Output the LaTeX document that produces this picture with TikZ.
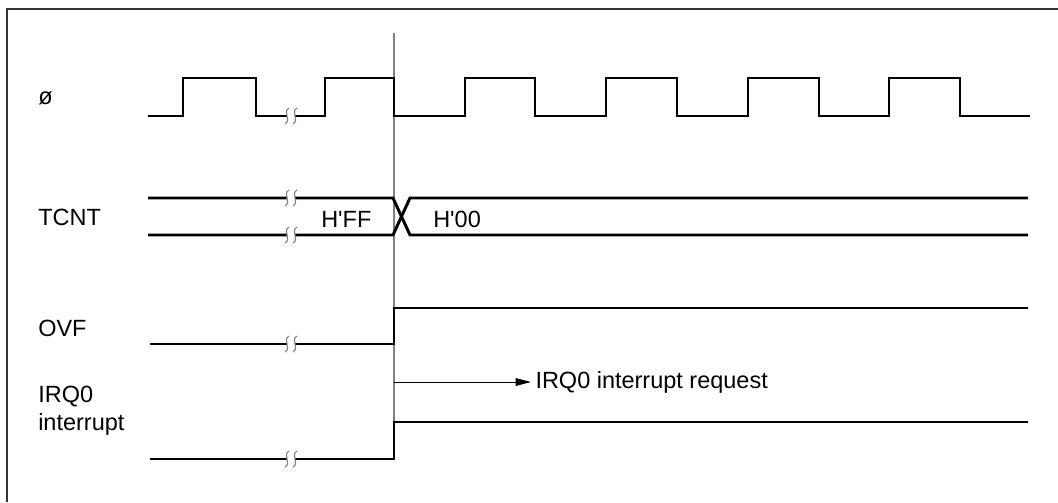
\documentclass[tikz,border=0pt]{standalone}
\usepackage{fontspec}
\setmainfont{Liberation Sans}
\usetikzlibrary{arrows.meta,positioning}
\definecolor{frameline}{HTML}{333333}
\definecolor{markline}{HTML}{808080}

\begin{document}
\begin{tikzpicture}[x=0.025cm,y=-0.025cm,>=Latex,
 font=\fontsize{16.7}{19.5}\selectfont,
 lbl/.style={inner sep=0pt,anchor=base west,align=left},
 sig/.style={line width=2.1pt,line join=miter},
 timeline/.style={markline,line width=1pt},
 arr/.style={-{Triangle[length=11pt,width=5.5pt]},line width=0.7pt},
 brkmark/.pic={\draw[markline,line width=0.8pt] (2,-8) .. controls (-5,-4) and (5,4) .. (-2,8);}]
\useasboundingbox (0,0) rectangle (1058,502);
\draw[frameline,line width=1.4pt] (1058,9) -- (7,9) -- (7,502);
% labels
\node[lbl] (lclk) at (38,104) {ø};
\node[lbl] (ltcnt) at (38,225) {TCNT};
\node[lbl] (lovf) at (38,336) {OVF};
\node[lbl] (lirq) at (38,430) {IRQ0\\interrupt};
% timing mark
\draw[timeline] (394,33) -- (394,459);
% clock
\draw[sig] (148,116) -| (183,78) -| (256,116) -- (287,116);
\draw[sig] (295,116) -| (325,78) -| (394,116) -| (465,78) -| (535,116) -| (606,78)
 -| (677,116) -| (748,78) -| (819,116) -| (889,78) -| (960,116) -- (1030,116);
% TCNT
\draw[sig] (148,198) -- (287,198) (295,198) -- (393,198) -- (410,235) -- (1028,235);
\draw[sig] (148,235) -- (287,235) (295,235) -- (393,235) -- (410,198) -- (1028,198);
\node[lbl] (vff) at (321,227) {H\textquotesingle FF};
\node[lbl] (v00) at (433,227) {H\textquotesingle 00};
% OVF
\draw[sig] (150,344) -- (287,344) (295,344) -| (394,308) -- (1028,308);
% IRQ0
\draw[sig] (150,459) -- (287,459) (295,459) -| (394,422) -- (1028,422);
% breaks
\foreach \yy in {116,198,235,344,459}
 {\pic at (287,\yy) {brkmark}; \pic at (295,\yy) {brkmark};}
% request
\coordinate (reqstart) at (394,382);
\node[lbl,anchor=west,inner xsep=3pt] (reqtxt) at (531,382) {IRQ0 interrupt request};
\draw[arr] (reqstart) -- (reqstart -| reqtxt.west);
\end{tikzpicture}
\end{document}
